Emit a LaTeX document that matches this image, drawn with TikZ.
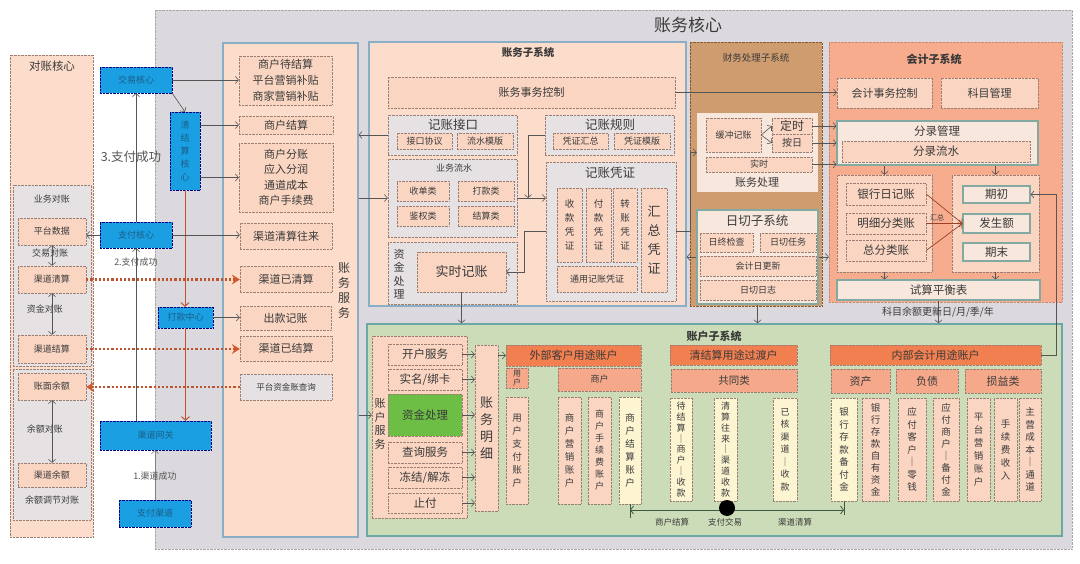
\documentclass[tikz,border=0pt]{standalone}
\usepackage{fontspec}
\setmainfont{Noto Sans CJK SC}
\usetikzlibrary{arrows.meta}
\definecolor{bgray}{HTML}{DCD9DE}
\definecolor{salm}{HTML}{FCDCCA}
\definecolor{salmbox}{HTML}{FAD5C2}
\definecolor{dotb}{HTML}{9C7F74}
\definecolor{panelb}{HTML}{8AAEC6}
\definecolor{graybox}{HTML}{E6E2E3}
\definecolor{blu}{HTML}{1AA0E2}
\definecolor{bluetxt}{HTML}{1B5C86}
\definecolor{tanc}{HTML}{CF9C70}
\definecolor{acct}{HTML}{F8AC8E}
\definecolor{grn}{HTML}{CDDCB8}
\definecolor{grnb}{HTML}{6AA8A8}
\definecolor{orng}{HTML}{F27F50}
\definecolor{salmid}{HTML}{F5A98A}
\definecolor{lyel}{HTML}{FDF5D2}
\definecolor{redb}{HTML}{BF5230}
\definecolor{redd}{HTML}{D0582A}
\definecolor{txt}{HTML}{3A3A3A}
\definecolor{lightbox}{HTML}{F8E7DC}
\definecolor{tealc}{HTML}{82AAA2}
\definecolor{greenb}{HTML}{6DBE45}
\definecolor{arrc}{HTML}{555555}
\definecolor{tlc}{HTML}{3D5A40}
\newcommand\myfs[2]{\fontsize{#1}{#2}\selectfont}
\newcommand\bxx[7]{\node[#6, minimum width={(#4)-(#2)}, minimum height={(#5)-(#3)}] (#1) at ({((#2)+(#4))/2},{((#3)+(#5))/2}) {#7};}
\tikzset{
 box/.style={draw=dotb, densely dotted, fill=salmbox, inner sep=0pt, align=center, text=txt, font=\myfs{11}{14}},
 sbx/.style={box, font=\myfs{9}{11}},
 gbox/.style={box, fill=graybox},
 lbox/.style={box, font=\myfs{9}{11}},
 vbox/.style={box, font=\myfs{9.5}{13}},
 ybox/.style={vbox, fill=lyel},
 obox/.style={box, fill=orng, font=\myfs{11}{13}},
 mbox/.style={box, fill=salmid},
 bbox/.style={draw=blue!50!black, densely dotted, fill=blu, inner sep=0pt, align=center, text=bluetxt, font=\myfs{9}{11}},
 mainpanel/.style={draw=gray!70, densely dotted, fill=bgray, inner sep=0pt},
 dzpanel/.style={draw=dotb, densely dotted, fill=salm, inner sep=0pt},
 panel/.style={draw=panelb, line width=1.2pt, fill=salm, inner sep=0pt},
 tanpanel/.style={draw=brown!70!black, densely dotted, fill=tanc, inner sep=0pt},
 accpanel/.style={draw=acct!80!black, densely dotted, fill=acct, inner sep=0pt},
 grnpanel/.style={draw=grnb, line width=1.5pt, fill=grn, inner sep=0pt},
 lightpanel/.style={fill=lightbox, inner sep=0pt},
 tealpanel/.style={draw=tealc, line width=1.5pt, fill=lightbox, inner sep=0pt},
 tbox/.style={draw=tealc, line width=1.2pt, fill=lightbox, inner sep=0pt, align=center, text=txt, font=\myfs{11.5}{14}},
 ttl/.style={text=txt, inner sep=0pt, align=center},
 garr/.style={draw=arrc, line width=0.6pt, -{Straight Barb[length=3pt,width=7pt]}},
 gdbl/.style={draw=arrc, line width=0.6pt, {Straight Barb[length=3pt,width=7pt]}-{Straight Barb[length=3pt,width=7pt]}},
 rarr/.style={draw=redb, line width=1pt, -{Straight Barb[length=3.5pt,width=8pt]}},
 darr/.style={draw=redb, line width=2.2pt, dotted, -{Stealth[length=8pt,width=10pt,inset=3pt,color=redd]}},
 harr/.style={draw=redb!80!black, line width=0.7pt, -{Straight Barb[length=3pt,width=7pt]}},
}
\begin{document}
\begin{tikzpicture}[x=1pt,y=-1pt]
\useasboundingbox (0,0) rectangle (1080,564);
\fill[white] (0,0) rectangle (1080,564);
% ---------- panels ----------
\bxx{main}{155}{10}{1072}{549}{mainpanel}{}
\node[ttl, font=\myfs{17}{20}] (tmain) at (688,25) {账务核心};
\bxx{dz}{10}{55}{93}{537}{dzpanel}{}
\node[ttl, font=\myfs{11.5}{14}] (tdz) at (52,66) {对账核心};
\bxx{dzga}{13}{185}{91}{366}{gbox}{}
\bxx{dzgb}{13}{369}{91}{520}{gbox}{}
\bxx{zwfw}{223}{43}{358}{537}{panel}{}
\bxx{zwzxt}{369}{42}{686}{306}{panel}{}
\bxx{cwcl}{690}{42}{822}{306}{tanpanel}{}
\bxx{kjzxt}{829}{42}{1062}{302}{accpanel}{}
\bxx{zhzxt}{367}{324}{1062}{536}{grnpanel}{}
% ---------- reconciliation core ----------
\node[ttl, font=\myfs{9}{11}] (l1) at (52,199) {业务对账};
\bxx{dzpt}{18}{218}{86}{245}{lbox}{平台数据}
\node[ttl, font=\myfs{9}{11}] (l2) at (50,253) {交易对账};
\bxx{dzqs}{18}{266}{86}{293}{lbox}{渠道清算}
\node[ttl, font=\myfs{9}{11}] (l3) at (45,309) {资金对账};
\bxx{dzjs}{18}{335}{86}{363}{lbox}{渠道结算}
\bxx{dzzm}{18}{373}{86}{400}{lbox}{账面余额}
\node[ttl, font=\myfs{9}{11}] (l4) at (45,429) {余额对账};
\bxx{dzye}{18}{463}{86}{487}{lbox}{渠道余额}
\node[ttl, font=\myfs{9}{11}] (l5) at (52,500) {余额调节对账};
\draw[gdbl] (dzpt.south) -- (dzqs.north);
\draw[gdbl] (dzqs.south) -- (dzjs.north);
\draw[gdbl] (dzzm.south) -- (dzye.north);
% ---------- blue cores ----------
\bxx{jy}{100}{67}{172}{93}{bbox}{交易核心}
\bxx{qjs}{170}{112}{200}{190}{bbox, font=\myfs{9}{13}}{清\\结\\算\\核\\心}
\bxx{zf}{100}{222}{172}{248}{bbox}{支付核心}
\bxx{dk}{158}{307}{213}{328}{bbox}{打款中心}
\bxx{wg}{100}{421}{211}{450}{bbox}{渠道网关}
\bxx{qd}{119}{500}{191}{527}{bbox}{支付渠道}
\draw[garr, draw=gray] (qd.north) -- (qd.north |- wg.south);
\node[ttl, font=\myfs{9}{11}, text=arrc] (l6) at (155,476) {1.渠道成功};
\draw[garr] (wg.north -| 136,0) -- (zf.south -| 136,0);
\node[ttl, font=\myfs{9}{11}, text=arrc] (l7) at (136,262) {2.支付成功};
\draw[garr] (zf.north -| 136,0) -- (jy.south -| 136,0);
\node[ttl, font=\myfs{12.5}{15}, text=arrc] (l8) at (131,157) {3.支付成功};
\draw[garr] (zf.west) -- (zf.west -| dzpt.east);
\draw[garr] (jy.south east) -- (qjs.north);
\draw[rarr] (qjs.south) -- (qjs.south |- dk.north);
\draw[rarr] (dk.south) -- (dk.south |- wg.north);
% ---------- 账务服务 ----------
\bxx{aa}{239}{56}{332}{105}{box, font=\myfs{11}{16}}{商户待结算\\平台营销补贴\\商家营销补贴}
\bxx{ab}{239}{116}{333}{134}{box}{商户结算}
\bxx{ac}{239}{143}{333}{212}{box, font=\myfs{11}{15.5}}{商户分账\\应入分润\\通道成本\\商户手续费}
\bxx{ad}{240}{223}{332}{249}{box}{渠道清算往来}
\bxx{ae}{240}{266}{332}{292}{box}{渠道已清算}
\bxx{af}{240}{306}{331}{330}{box}{出款记账}
\bxx{ag}{240}{336}{332}{361}{box}{渠道已结算}
\bxx{ah}{240}{374}{332}{400}{gbox, font=\myfs{8.5}{10}}{平台资金账查询}
\node[ttl, font=\myfs{12}{15}] (l9) at (344,291) {账\\务\\服\\务};
\draw[garr] (jy.east) -- (jy.east -| aa.west);
\draw[garr] (qjs.east |- ab.west) -- (ab.west);
\draw[garr] (qjs.east |- ac.west) -- (ac.west);
\draw[garr] (zf.east) -- (zf.east -| ad.west);
\draw[garr] (dk.east) -- (dk.east -| af.west);
\draw[darr] (dzqs.east) -- (dzqs.east -| ae.west);
\draw[darr] (dzjs.east) -- (dzjs.east -| ag.west);
\draw[darr] (ah.west) -- (ah.west -| dzzm.east);
% ---------- 账务子系统 ----------
\node[ttl, font=\myfs{10.5}{12}\bfseries] (l10) at (528,53) {账务子系统};
\bxx{swkz}{388}{77}{675}{108}{box}{账务事务控制}
\bxx{jzjk}{388}{115}{517}{155}{gbox}{}
\node[ttl, font=\myfs{12.5}{14}] (l11) at (453,125) {记账接口};
\bxx{jkxy}{397}{133}{452}{149}{sbx}{接口协议}
\bxx{lsmb}{457}{133}{513}{149}{sbx}{流水模版}
\bxx{ywls}{388}{159}{517}{237}{gbox}{}
\node[ttl, font=\myfs{9}{11}] (l12) at (454,168) {业务流水};
\bxx{sdl}{397}{181}{449}{201}{sbx}{收单类}
\bxx{dkl}{458}{181}{514}{201}{sbx}{打款类}
\bxx{jql}{397}{206}{449}{226}{sbx}{鉴权类}
\bxx{jsl}{458}{206}{514}{226}{sbx}{结算类}
\bxx{zjcl}{388}{242}{517}{304}{gbox}{}
\node[ttl, font=\myfs{11}{13.5}] (l13) at (399,274) {资\\金\\处\\理};
\bxx{ssjz}{417}{252}{506}{292}{box, font=\myfs{13}{15}}{实时记账}
\bxx{jzgz}{545}{115}{674}{155}{gbox}{}
\node[ttl, font=\myfs{12.5}{14}] (l14) at (610,125) {记账规则};
\bxx{pzhz}{553}{133}{608}{149}{sbx}{凭证汇总}
\bxx{pzmb}{614}{133}{670}{149}{sbx}{凭证模版}
\bxx{jzpz}{546}{162}{676}{301}{gbox}{}
\node[ttl, font=\myfs{12.5}{14}] (l15) at (610,173) {记账凭证};
\bxx{skpz}{557}{188}{582}{262}{vbox, font=\myfs{9.5}{14}}{收\\款\\凭\\证}
\bxx{fkpz}{586}{188}{611}{262}{vbox, font=\myfs{9.5}{14}}{付\\款\\凭\\证}
\bxx{zzpz}{613}{188}{637}{262}{vbox, font=\myfs{9.5}{14}}{转\\账\\凭\\证}
\bxx{hzpz}{641}{188}{667}{292}{box, font=\myfs{13}{19}}{汇\\总\\凭\\证}
\bxx{tyjz}{557}{266}{637}{292}{sbx}{通用记账凭证}
\draw[garr] (jzjk.west) -- (jzjk.west -| zwfw.east);
\draw[garr] (zwfw.east |- ywls.west) -- (ywls.west);
\draw[garr] (ywls.east) -- (ywls.east -| jzpz.west);
\coordinate (mjz) at (528,198);
\draw[garr] (jzgz.west) -| (mjz);
\draw[garr] (jzpz.west) -- ++(-22,0) |- (ssjz.east);
\draw[garr] (ssjz.south) -- (ssjz.south |- zhzxt.north);
% ---------- 财务处理子系统 ----------
\node[ttl, font=\myfs{9.5}{11}] (l16) at (756,58) {财务处理子系统};
\bxx{zwcl}{697}{113}{818}{192}{lightpanel}{}
\node[ttl, font=\myfs{11}{13}] (l17) at (757,182) {账务处理};
\bxx{hcjz}{706}{118}{761}{152}{sbx}{缓冲记账}
\bxx{ds}{772}{118}{812}{134}{box, font=\myfs{12}{13}}{定时}
\bxx{ar}{772}{134}{812}{152}{box, font=\myfs{10}{12}}{按日}
\bxx{ss}{706}{157}{812}{172}{sbx}{实时}
\draw[garr] (hcjz.east) -- (ds.west);
\draw[garr] (hcjz.east) -- (ar.west);
\draw[garr] (jzpz.east) -- ++(14,0) |- (zwcl.west);
\bxx{rq}{697}{210}{818}{304}{tealpanel}{}
\node[ttl, font=\myfs{12.5}{14}] (l18) at (757,221) {日切子系统};
\bxx{rzjc}{700}{233}{753}{252}{sbx}{日终检查}
\bxx{rqrw}{760}{233}{816}{252}{sbx}{日切任务}
\bxx{kjgx}{700}{256}{816}{276}{sbx}{会计日更新}
\bxx{rqrz}{700}{280}{816}{300}{sbx}{日切日志}
\draw[garr] (rq.west) -- (rq.west -| zwzxt.east);
\draw[garr] (rq.east) -- (rq.east -| kjzxt.west);
\draw[garr] (rq.south) -- (rq.south |- zhzxt.north);
% ---------- 会计子系统 ----------
\node[ttl, font=\myfs{11}{13}\bfseries] (l19) at (934,59) {会计子系统};
\bxx{kjsw}{837}{78}{932}{108}{box}{会计事务控制}
\bxx{kmgl}{941}{78}{1038}{108}{box}{科目管理}
\bxx{flgl}{837}{121}{1038}{165}{tbox}{}
\node[ttl, font=\myfs{11.5}{13}] (l20) at (937,131) {分录管理};
\bxx{flls}{842}{141}{1030}{162}{box, font=\myfs{11.5}{13}}{分录流水}
\bxx{lb}{837}{175}{932}{272}{box}{}
\bxx{yhrj}{846}{183}{926}{205}{box, font=\myfs{11.5}{13}}{银行日记账}
\bxx{mxfl}{846}{213}{926}{234}{box, font=\myfs{11.5}{13}}{明细分类账}
\bxx{zfl}{846}{240}{926}{261}{box, font=\myfs{11.5}{13}}{总分类账}
\bxx{rb}{952}{175}{1039}{272}{box}{}
\bxx{qc}{963}{186}{1030}{203}{tbox}{期初}
\bxx{fse}{963}{214}{1030}{233}{tbox}{发生额}
\bxx{qm}{963}{243}{1030}{261}{tbox}{期末}
\bxx{ssph}{837}{280}{1040}{300}{tbox}{试算平衡表}
\draw[garr] (swkz.east) -- (swkz.east -| kjsw.west);
\draw[garr] (ds.east) -- (ds.east -| flgl.west);
\draw[garr] (ar.east) -- (ar.east -| flgl.west);
\draw[garr] (ss.east) -- (ss.east -| flgl.west);
\draw[harr] (yhrj.east) -- (fse.west);
\draw[harr] (mxfl.east) -- (fse.west);
\draw[harr] (zfl.east) -- (fse.west);
\node[ttl, font=\myfs{7}{8}] (l21) at (937,218) {汇总};
\draw[garr] (lb.north |- flgl.south) -- (lb.north);
\draw[garr] (rb.north |- flgl.south) -- (rb.north);
\draw[garr] (lb.south) -- (lb.south |- ssph.north);
\draw[garr] (rb.south) -- (rb.south |- ssph.north);
\draw[garr] (ssph.south) -- (ssph.south |- zhzxt.north);
\node[ttl, font=\myfs{10}{12}] (l22) at (938,312) {科目余额更新日/月/季/年};
% ---------- 账户子系统 ----------
\node[ttl, font=\myfs{11}{13}\bfseries] (l23) at (714,336) {账户子系统};
\bxx{zhfw}{372}{336}{467}{518}{box}{}
\node[ttl, font=\myfs{11}{13.5}] (l24) at (380,424) {账\\户\\服\\务};
\bxx{khfw}{388}{344}{462}{365}{box, font=\myfs{11.5}{13}}{开户服务}
\bxx{smbk}{388}{369}{462}{390}{box, font=\myfs{11.5}{13}}{实名/绑卡}
\bxx{zjclb}{388}{394}{462}{436}{box, fill=greenb, font=\myfs{11.5}{13}}{资金处理}
\bxx{cxfw}{388}{442}{462}{463}{box, font=\myfs{11.5}{13}}{查询服务}
\bxx{djjd}{388}{467}{462}{488}{box, font=\myfs{11.5}{13}}{冻结/解冻}
\bxx{zfu}{388}{493}{462}{513}{box, font=\myfs{11.5}{13}}{止付}
\bxx{zwmx}{475}{345}{498}{511}{box, font=\myfs{13}{17}}{账\\务\\明\\细}
\draw[garr] (zwfw.east |- zjclb.west) -- (zhfw.west |- zjclb.west);
\foreach \n in {khfw,smbk,zjclb,cxfw,djjd,zfu} {\draw[garr] (\n.east) -- (\n.east -| zwmx.west);}
\bxx{wbkh}{506}{345}{641}{366}{obox}{外部客户用途账户}
\draw[garr] (zwmx.east |- wbkh.west) -- (wbkh.west);
\bxx{yh}{506}{368}{528}{388}{mbox, font=\myfs{8}{9}}{用\\户}
\bxx{sh}{558}{368}{641}{391}{mbox, font=\myfs{9}{11}}{商户}
\bxx{yhzf}{506}{397}{528}{504}{vbox}{用\\户\\支\\付\\账\\户}
\bxx{shyx}{558}{397}{581}{504}{vbox}{商\\户\\营\\销\\账\\户}
\bxx{shsx}{588}{397}{611}{504}{vbox, font=\myfs{9}{12}}{商\\户\\手\\续\\费\\账\\户}
\bxx{shjs}{619}{397}{641}{504}{ybox}{商\\户\\结\\算\\账\\户}
\bxx{qjsh}{670}{345}{797}{365}{obox}{清结算用途过渡户}
\bxx{gtl}{671}{369}{797}{392}{mbox, font=\myfs{10.5}{12}}{共同类}
\bxx{djs}{670}{398}{692}{501}{ybox, font=\myfs{9}{10.8}}{待\\结\\算\\｜\\商\\户\\｜\\收\\款}
\bxx{qswl}{714}{398}{737}{501}{ybox, font=\myfs{9}{10.8}}{清\\算\\往\\来\\｜\\渠\\道\\收\\款}
\bxx{yhqd}{773}{398}{797}{501}{ybox, font=\myfs{9}{12.5}}{已\\核\\渠\\道\\｜\\收\\款}
\bxx{nbkj}{830}{345}{1041}{365}{obox}{内部会计用途账户}
\bxx{zc}{831}{369}{890}{393}{mbox}{资产}
\bxx{fz}{896}{369}{958}{393}{mbox}{负债}
\bxx{syl}{965}{369}{1041}{393}{mbox}{损益类}
\bxx{ckbf}{831}{398}{857}{501}{ybox, font=\myfs{9.5}{12.5}}{银\\行\\存\\款\\备\\付\\金}
\bxx{ckzy}{862}{398}{889}{501}{vbox, font=\myfs{9.5}{12}}{银\\行\\存\\款\\自\\有\\资\\金}
\bxx{yfkh}{898}{398}{926}{501}{vbox, font=\myfs{9.5}{12.5}}{应\\付\\客\\户\\｜\\零\\钱}
\bxx{yfsh}{933}{398}{959}{501}{vbox, font=\myfs{9.5}{12}}{应\\付\\商\\户\\｜\\备\\付\\金}
\bxx{ptyx}{967}{398}{990}{501}{vbox}{平\\台\\营\\销\\账\\户}
\bxx{sxf}{994}{398}{1017}{501}{vbox}{手\\续\\费\\收\\入}
\bxx{zycb}{1019}{398}{1041}{501}{vbox, font=\myfs{9.5}{12.5}}{主\\营\\成\\本\\｜\\通\\道}
\draw[garr] (nbkj.east) -- ++(15,0) |- (qc.east);
% timeline
\coordinate (tla) at (630,510);
\coordinate (tlb) at (844,510);
\draw[draw=tlc, line width=0.7pt] (shjs.south) -- ++(0,14);
\draw[draw=tlc, line width=0.7pt] (ckbf.south) -- ++(0,14);
\draw[draw=tlc, line width=0.8pt, {Straight Barb[length=3pt,width=8pt]}-{Straight Barb[length=3pt,width=8pt]}] (tla) -- (tlb);
\node[circle, fill=black, minimum size=16pt, inner sep=0pt] (dot) at (727,508) {};
\node[ttl, font=\myfs{8.5}{10}] (l25) at (672,522) {商户结算};
\node[ttl, font=\myfs{8.5}{10}] (l26) at (725,522) {支付交易};
\node[ttl, font=\myfs{8.5}{10}] (l27) at (795,522) {渠道清算};
\end{tikzpicture}
\end{document}
